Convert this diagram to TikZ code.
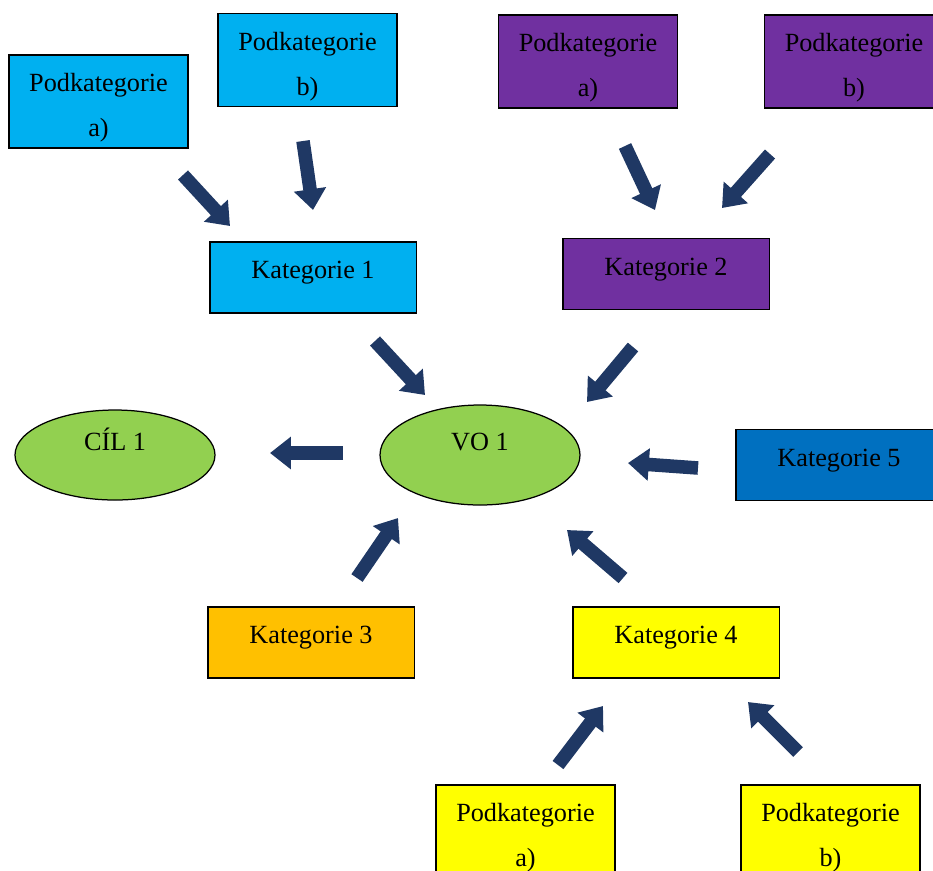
\documentclass[tikz,border=0pt]{standalone}
\usepackage{fontspec}
\setmainfont{Liberation Serif}
\usetikzlibrary{shapes.geometric,arrows.meta}
\definecolor{cyanbox}{HTML}{00B0F0}
\definecolor{purplebox}{HTML}{7030A0}
\definecolor{bluebox}{HTML}{0070C0}
\definecolor{orangebox}{HTML}{FFC000}
\definecolor{yellowbox}{HTML}{FFFF00}
\definecolor{greenbox}{HTML}{92D050}
\definecolor{navy}{HTML}{1F3864}

\begin{document}
\begin{tikzpicture}[x=0.48pt,y=-0.48pt,
  every node/.style={font=\fontsize{12.6}{21.5}\selectfont},
  sub/.style={draw=black,line width=0.6pt,minimum width=86pt,minimum height=44.6pt,align=center,inner sep=0pt},
  cat/.style={draw=black,line width=0.6pt,minimum width=99pt,minimum height=34pt,inner sep=0pt,text height=9pt,text depth=8pt},
  goal/.style={ellipse,draw=black,line width=0.6pt,fill=greenbox,inner sep=0pt,text height=9pt,text depth=13pt},
  bigarrow/.style={navy,line width=6.5pt,-{Triangle[width=15pt,length=10pt]}}]
\useasboundingbox (0,0) rectangle (933,870);

\node[sub,fill=cyanbox] (pa1) at (98.5,101.5) {\rule{0pt}{15pt}Podkategorie\\a)};
\node[sub,fill=cyanbox] (pb1) at (307.5,60) {\rule{0pt}{15pt}Podkategorie\\b)};
\node[sub,fill=purplebox] (pa2) at (588,61.5) {\rule{0pt}{15pt}Podkategorie\\a)};
\node[sub,fill=purplebox] (pb2) at (854,61.5) {\rule{0pt}{15pt}Podkategorie\\b)};
\node[cat,fill=cyanbox] (k1) at (313,277.5) {Kategorie 1};
\node[cat,fill=purplebox] (k2) at (666,274) {Kategorie 2};
\node[goal,minimum width=96pt,minimum height=43.2pt] (cil) at (115,455) {CÍL 1};
\node[goal,minimum width=96pt,minimum height=48pt] (vo) at (480,455) {VO 1};
\node[cat,fill=bluebox] (k5) at (839,465) {Kategorie 5};
\node[cat,fill=orangebox] (k3) at (311,642.5) {Kategorie 3};
\node[cat,fill=yellowbox] (k4) at (676,642.5) {Kategorie 4};
\node[sub,fill=yellowbox] (pa4) at (525.5,831.5) {\rule{0pt}{15pt}Podkategorie\\a)};
\node[sub,fill=yellowbox] (pb4) at (830.5,831.5) {\rule{0pt}{15pt}Podkategorie\\b)};

\coordinate (s1) at (183,175);  \coordinate (e1) at (230,226);
\coordinate (s2) at (303,141);  \coordinate (e2) at (313,210);
\coordinate (s3) at (625,146);  \coordinate (e3) at (655,210);
\coordinate (s4) at (770,154);  \coordinate (e4) at (722,208);
\coordinate (s5) at (375,341);  \coordinate (e5) at (425,395);
\coordinate (s6) at (633,347);  \coordinate (e6) at (587,402);
\coordinate (s7) at (343,453);  \coordinate (e7) at (270,453);
\coordinate (s8) at (698,468);  \coordinate (e8) at (628,463);
\coordinate (s9) at (357,578);  \coordinate (e9) at (398,518);
\coordinate (s10) at (623,578); \coordinate (e10) at (567,530);
\coordinate (s11) at (558,765); \coordinate (e11) at (603,706);
\coordinate (s12) at (798,752); \coordinate (e12) at (748,702);
\foreach \i in {1,...,12}
  \draw[bigarrow] (s\i) -- (e\i);
\end{tikzpicture}
\end{document}
